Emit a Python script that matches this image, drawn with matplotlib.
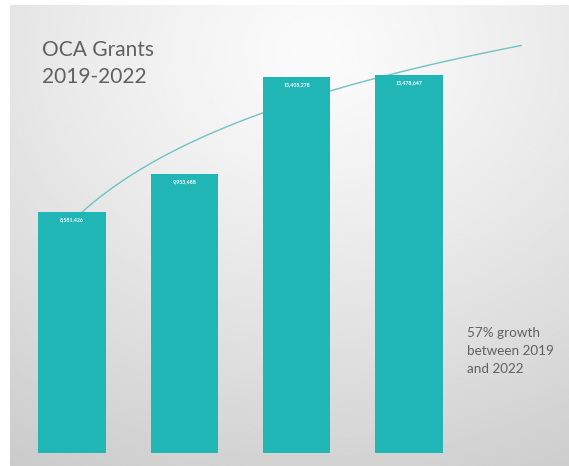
import numpy as np
import matplotlib.pyplot as plt

years = ["2019", "2020", "2021", "2022"]
grants = [8581426, 9953488, 13405278, 13478647]
note_lines = ["57% growth", "between 2019", "and 2022"]

W, H = 569, 466
fig = plt.figure(figsize=(W / 100, H / 100), dpi=100)
fig.patch.set_facecolor("white")

# grey slide backdrop with a soft light spot near the top
bg = fig.add_axes([10 / W, 0, 1 - 10 / W, 1 - 5 / H])
bg.set_axis_off()
yy, xx = np.mgrid[0:1:300j, 0:1:300j]
dist = np.sqrt(((xx - 0.55) / 1.1) ** 2 + ((yy - 0.1) / 1.1) ** 2)
shade = 0.985 - 0.2 * np.clip(dist, 0, 1) ** 1.2
bg.imshow(shade, cmap="gray", vmin=0, vmax=1, aspect="auto",
          extent=[0, 1, 1, 0], interpolation="bilinear")

# plot area lined up with the backdrop
ax = fig.add_axes([10 / W, 0, 1 - 10 / W, 1 - 5 / H])
ax.patch.set_alpha(0)
ax.set_axis_off()
step = 112.3
x0 = 1 - (72 - 10) / step
x1 = 1 + (W - 72) / step
per_px = grants[3] / 378.0
ax.set_xlim(x0, x1)
ax.set_ylim(-(H - 453) * per_px, (453 - 5) * per_px)

pos = np.arange(1, len(grants) + 1)
bars = ax.bar(pos, grants, width=0.6, color="#21b6b6", zorder=3)

# logarithmic trendline, extended one period ahead
b, a = np.polyfit(np.log(pos), grants, 1)
xt = np.linspace(1, 5, 200)
ax.plot(xt, a + b * np.log(xt), color="#6fc3c3", lw=1.0, zorder=2)

for rect, v in zip(bars, grants):
    ax.text(rect.get_x() + rect.get_width() / 2, v - 5 * per_px,
            f"{v:,.0f}", ha="center", va="top", color="white",
            fontsize=3.8, fontweight="bold", family="Lato", zorder=4)

fig.text(42 / W, 1 - 50 / H, "OCA Grants", ha="left", va="center",
         fontsize=15, color="#606060", family="Lato")
fig.text(42 / W, 1 - 77 / H, "2019-2022", ha="left", va="center",
         fontsize=15, color="#606060", family="Lato")

for i, line in enumerate(note_lines):
    fig.text(467 / W, 1 - (333 + 18 * i) / H, line, ha="left", va="center",
             fontsize=9.7, color="#606060", family="Lato")

fig.savefig("out.png", dpi=100)
